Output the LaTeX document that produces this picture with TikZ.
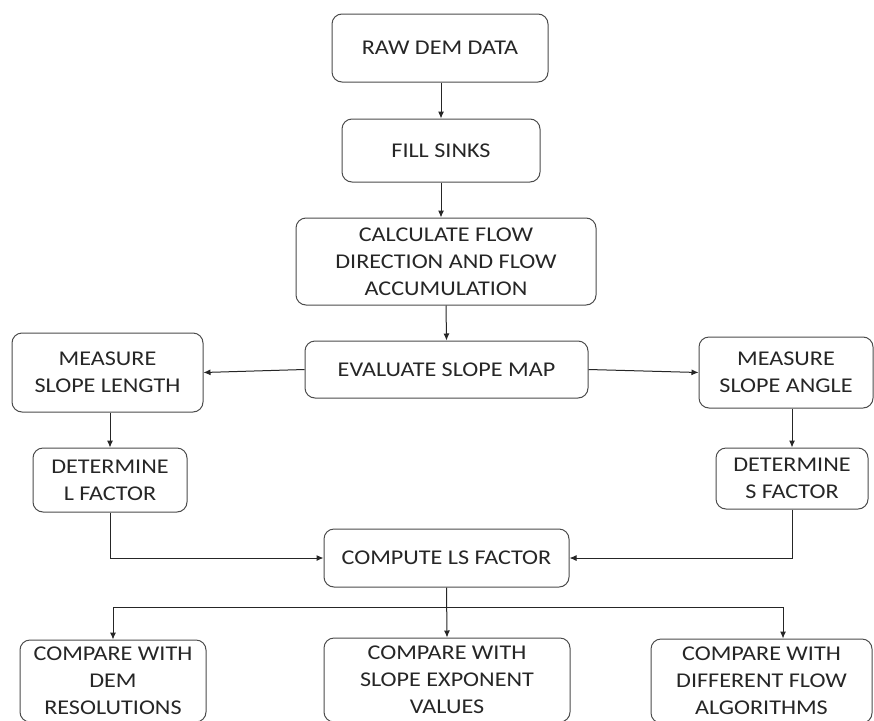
\documentclass[tikz,border=0pt]{standalone}
\usepackage{fontspec}
\setmainfont{Carlito}[FakeStretch=1.15]
\usetikzlibrary{arrows.meta}
\begin{document}
\begin{tikzpicture}[x=1pt,y=-1pt,
  box/.style={draw=black!70, line width=1pt, rounded corners=10pt, align=center,
    inner sep=0pt, font=\fontsize{21}{27}\selectfont, text=black!85},
  conn/.style={line width=1pt, draw=black!85},
  arr/.style={conn, -{Latex[length=7pt,width=6pt]}}]
\useasboundingbox (0,0) rectangle (874,720);
\fill[white] (0,0) rectangle (874,720);
\clip (0,0) rectangle (874,720);
\node[box, minimum width=216pt, minimum height=68pt] (raw) at (440,48) {RAW DEM DATA};
\node[box, minimum width=198pt, minimum height=63pt] (fill) at (441,150.5) {FILL SINKS};
\node[box, minimum width=300pt, minimum height=87pt] (calc) at (446,261.5) {CALCULATE FLOW\\DIRECTION AND FLOW\\ACCUMULATION};
\node[box, minimum width=283pt, minimum height=57pt] (eval) at (446.5,369.5) {EVALUATE SLOPE MAP};
\node[box, minimum width=191pt, minimum height=79pt] (msl) at (107.5,372.5) {MEASURE\\SLOPE LENGTH};
\node[box, minimum width=174pt, minimum height=71pt] (msa) at (786,372.5) {MEASURE\\SLOPE ANGLE};
\node[box, minimum width=154pt, minimum height=64pt] (dl) at (110,480) {DETERMINE\\L FACTOR};
\node[box, minimum width=152pt, minimum height=61pt] (ds) at (792,478.5) {DETERMINE\\S FACTOR};
\node[box, minimum width=245pt, minimum height=58pt] (ls) at (446.5,558) {COMPUTE LS FACTOR};
\node[box, minimum width=186pt, minimum height=82pt] (c1) at (113,681) {COMPARE WITH\\DEM\\RESOLUTIONS};
\node[box, minimum width=246pt, minimum height=84pt] (c2) at (447,680) {COMPARE WITH\\SLOPE EXPONENT\\VALUES};
\node[box, minimum width=221pt, minimum height=84pt] (c3) at (761.5,681) {COMPARE WITH\\DIFFERENT FLOW\\ALGORITHMS};
\draw[arr] (raw.south -| fill.north) -- (fill.north);
\draw[arr] (fill.south) -- (fill.south |- calc.north);
\draw[arr] (calc.south) -- (eval.north);
\draw[arr] (eval.west) -- (msl.east);
\draw[arr] (eval.east) -- (msa.west);
\draw[arr] (msl.south -| dl.north) -- (dl.north);
\draw[arr] (msa.south -| ds.north) -- (ds.north);
\draw[arr] (dl.south) |- (ls.west);
\draw[arr] (ds.south) |- (ls.east);
\coordinate (jl) at (113,607);
\coordinate (jr) at (783,607);
\draw[conn] (jl) -- (jr);
\draw[arr] (ls.south) -- (c2.north);
\draw[arr] (jl) -- (jl |- c1.north);
\draw[arr] (jr) -- (jr |- c3.north);
\end{tikzpicture}
\end{document}
